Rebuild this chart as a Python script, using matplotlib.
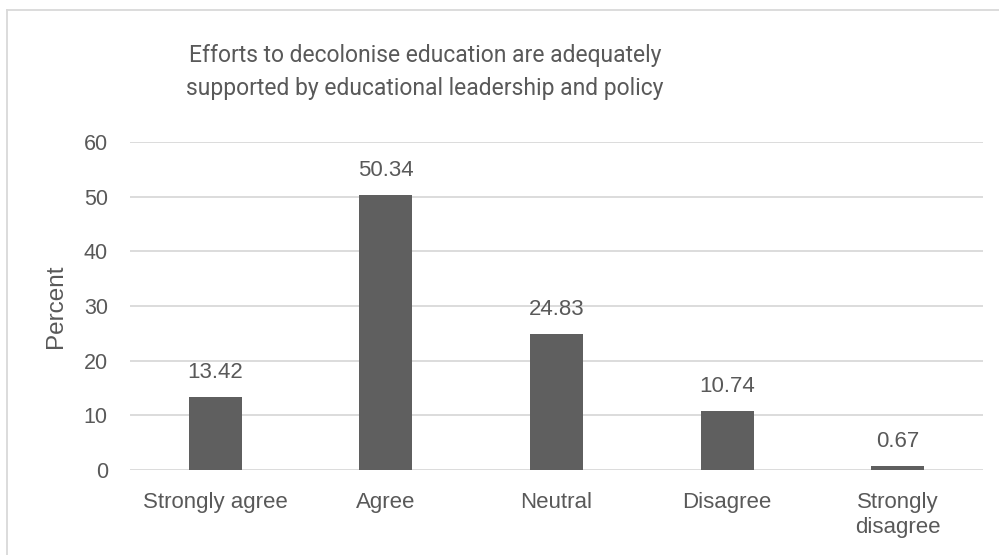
import matplotlib
matplotlib.use("Agg")
import matplotlib.pyplot as plt
from matplotlib.lines import Line2D

categories = ["Strongly agree", "Agree", "Neutral", "Disagree", "Strongly\ndisagree"]
values = [13.42, 50.34, 24.83, 10.74, 0.67]
yticks = [0, 10, 20, 30, 40, 50, 60]
title = "Efforts to decolonise education are adequately\nsupported by educational leadership and policy"

plt.rcParams['font.family'] = ['Liberation Sans', 'DejaVu Sans']
text_col = "#595959"

fig = plt.figure(figsize=(9.99, 5.55), dpi=100)
ax = fig.add_axes([130/999, 1-470/555, (983-130)/999, (470-142)/555])

x = list(range(len(categories)))
ax.bar(x, values, width=0.31, color="#5f5f5f", zorder=3)
for xi, v in zip(x, values):
    ax.annotate(f"{v:.2f}", (xi, v), xytext=(0, 10), textcoords="offset points",
                ha="center", va="bottom", fontsize=16, color=text_col)

ax.set_xlim(-0.5, len(categories) - 0.5)
ax.set_ylim(0, 60)
ax.set_yticks(yticks)
ax.set_yticklabels([str(t) for t in yticks], fontsize=15.5, color=text_col)
ax.set_xticks(x)
ax.set_xticklabels(categories, fontsize=16, color=text_col, linespacing=1.25)
ax.tick_params(axis="y", length=0, pad=16)
ax.tick_params(axis="x", length=0, pad=16)
ax.grid(axis="y", color="#d9d9d9", linewidth=1.3, zorder=0)
for s in ax.spines.values():
    s.set_visible(False)
ax.set_ylabel("Percent", fontsize=17.5, color=text_col, labelpad=12)

fig.text(425/999, 1-72/555, title, ha="center", va="center", fontsize=16.5,
         color=text_col, linespacing=1.55, family=['Roboto', 'DejaVu Sans'])

# chart border
fig.add_artist(Line2D([7/999, 7/999], [0, 1-10/555], color="#d9d9d9", linewidth=1.3,
                      transform=fig.transFigure))
fig.add_artist(Line2D([7/999, 1], [1-10/555, 1-10/555], color="#d9d9d9", linewidth=1.3,
                      transform=fig.transFigure))

fig.savefig("out.png", dpi=100)
